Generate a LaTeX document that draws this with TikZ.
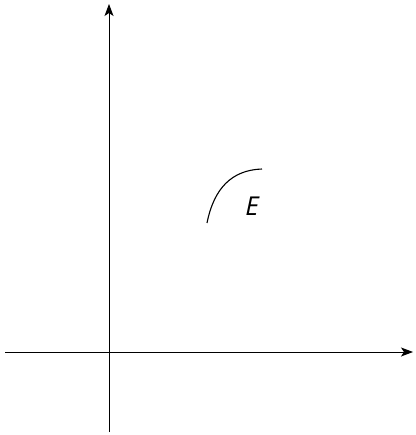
\documentclass[tikz,border=0pt]{standalone}
\usepackage{fontspec}
\setmainfont{Open Sans}
\usetikzlibrary{arrows.meta}
\begin{document}
\begin{tikzpicture}[x=1pt,y=-1pt,
  axis/.style={line width=1pt,-{Stealth[length=12pt,width=9pt,inset=3pt]}},
  curve/.style={line width=1.1pt}]
\useasboundingbox (0,0) rectangle (415,435);
\coordinate (xs) at (5,352);
\coordinate (xe) at (413,352);
\coordinate (ys) at (109,432);
\coordinate (ye) at (109,4);
\draw[axis] (xs) -- (xe);
\draw[axis] (ys) -- (ye);
\coordinate (c1) at (207,223);
\coordinate (c2) at (262,169);
\draw[curve] (c1) .. controls (214,188) and (232,170) .. (c2);
\node[font=\fontsize{26}{30}\selectfont\itshape, inner sep=0pt] (E) at (252,206) {E};
\end{tikzpicture}
\end{document}
